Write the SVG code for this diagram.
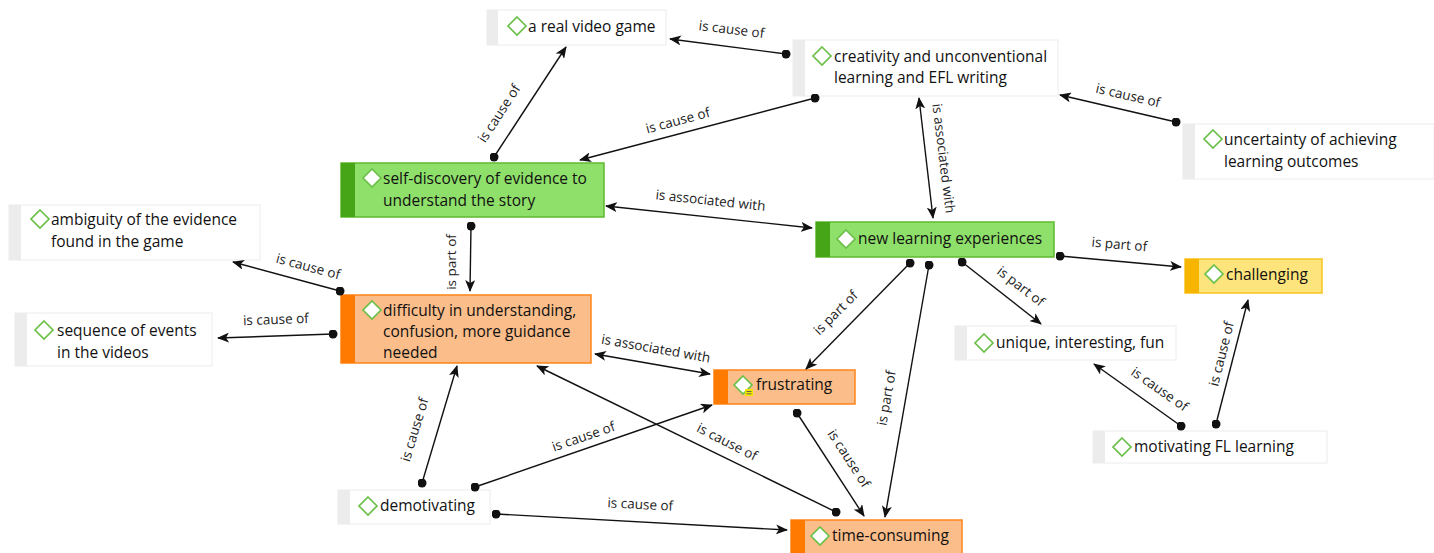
<svg xmlns="http://www.w3.org/2000/svg" width="1434" height="553" viewBox="0 0 1434 553">
<defs>
<marker id="arr" viewBox="0 0 12 10" refX="11" refY="5" markerWidth="12" markerHeight="10" markerUnits="userSpaceOnUse" orient="auto-start-reverse"><path d="M0,0 L12,5 L0,10 L3,5 Z" fill="#111"/></marker>
<marker id="dot" viewBox="0 0 10 10" refX="5" refY="5" markerWidth="9" markerHeight="9" markerUnits="userSpaceOnUse"><circle cx="5" cy="5" r="5" fill="#111"/></marker>
<symbol id="dia" viewBox="0 0 20 20" overflow="visible"><path d="M10,1 L19,10 L10,19 L1,10 Z" fill="#fff" stroke="#6cc04a" stroke-width="1.7"/></symbol>
</defs>
<style>
.plain{fill:#fff;stroke:#ececec;stroke-width:1}
.pstrip{fill:#ececec}
.green{fill:#8fe06a;stroke:#5fba2e;stroke-width:1.5}
.gstrip{fill:#46a517}
.orange{fill:#fbbd8a;stroke:#ff8419;stroke-width:1.5}
.ostrip{fill:#ff7a00}
.yellow{fill:#fde47d;stroke:#f7c51c;stroke-width:1.5}
.ystrip{fill:#f7b500}
.t{font-family:"Open Sans","Noto Sans",sans-serif;font-size:15.5px;font-weight:500;fill:#111}
.lb{font-family:"Open Sans","Noto Sans",sans-serif;font-size:13.5px;fill:#222;text-anchor:middle}
.c{fill:none;stroke:#111;stroke-width:1.4;marker-start:url(#dot);marker-end:url(#arr)}
.d{fill:none;stroke:#111;stroke-width:1.4;marker-start:url(#arr);marker-end:url(#arr)}
</style>
<rect width="1434" height="553" fill="#fff"/>

<g id="n-video">
<rect class="plain" x="487" y="10" width="179" height="35"/><rect class="pstrip" x="487" y="10" width="11" height="35"/>
<use href="#dia" x="507" y="16" width="20" height="20"/>
<text class="t" x="528" y="32">a real video game</text>
</g>
<g id="n-creativity">
<rect class="plain" x="793" y="40" width="265" height="56"/><rect class="pstrip" x="793" y="40" width="12" height="56"/>
<use href="#dia" x="812" y="46" width="20" height="20"/>
<text class="t" x="834" y="62">creativity and unconventional</text>
<text class="t" x="834" y="83">learning and EFL writing</text>
</g>
<g id="n-uncertainty">
<rect class="plain" x="1183" y="124" width="251" height="55"/><rect class="pstrip" x="1183" y="124" width="12" height="55"/>
<use href="#dia" x="1203" y="129" width="20" height="20"/>
<text class="t" x="1224" y="145">uncertainty of achieving</text>
<text class="t" x="1224" y="167">learning outcomes</text>
</g>
<g id="n-self">
<rect class="green" x="341" y="163" width="263" height="54"/><rect class="gstrip" x="341" y="163" width="14" height="54"/>
<use href="#dia" x="362" y="168" width="20" height="20"/>
<text class="t" x="383" y="184">self-discovery of evidence to</text>
<text class="t" x="383" y="206">understand the story</text>
</g>
<g id="n-ambiguity">
<rect class="plain" x="9" y="205" width="251" height="55"/><rect class="pstrip" x="9" y="205" width="12" height="55"/>
<use href="#dia" x="30" y="209" width="20" height="20"/>
<text class="t" x="51" y="225">ambiguity of the evidence</text>
<text class="t" x="51" y="247">found in the game</text>
</g>
<g id="n-new">
<rect class="green" x="816" y="222" width="238" height="35"/><rect class="gstrip" x="816" y="222" width="14" height="35"/>
<use href="#dia" x="836" y="229" width="20" height="20"/>
<text class="t" x="858" y="244">new learning experiences</text>
</g>
<g id="n-challenging">
<rect class="yellow" x="1185" y="259" width="137" height="34"/><rect class="ystrip" x="1185" y="259" width="14" height="34"/>
<use href="#dia" x="1204" y="264" width="20" height="20"/>
<text class="t" x="1226" y="280">challenging</text>
</g>
<g id="n-sequence">
<rect class="plain" x="15" y="313" width="197" height="53"/><rect class="pstrip" x="15" y="313" width="12" height="53"/>
<use href="#dia" x="34" y="320" width="20" height="20"/>
<text class="t" x="57" y="336">sequence of events</text>
<text class="t" x="57" y="358">in the videos</text>
</g>
<g id="n-difficulty">
<rect class="orange" x="341" y="295" width="250" height="68"/><rect class="ostrip" x="341" y="295" width="14" height="68"/>
<use href="#dia" x="362" y="300" width="20" height="20"/>
<text class="t" x="383" y="316">difficulty in understanding,</text>
<text class="t" x="383" y="337">confusion, more guidance</text>
<text class="t" x="383" y="358">needed</text>
</g>
<g id="n-unique">
<rect class="plain" x="955" y="326" width="221" height="34"/><rect class="pstrip" x="955" y="326" width="12" height="34"/>
<use href="#dia" x="974" y="333" width="20" height="20"/>
<text class="t" x="996" y="348">unique, interesting, fun</text>
</g>
<g id="n-frustrating">
<rect class="orange" x="714" y="370" width="141" height="34"/><rect class="ostrip" x="714" y="370" width="14" height="34"/>
<use href="#dia" x="733" y="375" width="20" height="20"/>
<rect x="745" y="389" width="8" height="7" fill="#f2e600"/>
<path d="M746.5,391.5 H751.5 M746.5,393.8 H751.5" stroke="#555" stroke-width="0.9"/>
<text class="t" x="756" y="390">frustrating</text>
</g>
<g id="n-motivating">
<rect class="plain" x="1093" y="431" width="234" height="32"/><rect class="pstrip" x="1093" y="431" width="12" height="32"/>
<use href="#dia" x="1112" y="437" width="20" height="20"/>
<text class="t" x="1134" y="452">motivating FL learning</text>
</g>
<g id="n-demotivating">
<rect class="plain" x="338" y="490" width="152" height="34"/><rect class="pstrip" x="338" y="490" width="12" height="34"/>
<use href="#dia" x="358" y="496" width="20" height="20"/>
<text class="t" x="380" y="511">demotivating</text>
</g>
<g id="n-time">
<rect class="orange" x="791" y="520" width="171" height="40"/><rect class="ostrip" x="791" y="520" width="14" height="40"/>
<use href="#dia" x="810" y="526" width="20" height="20"/>
<text class="t" x="832" y="541">time-consuming</text>
</g>

<g id="connectors">
<path class="c" d="M786,54 L670,39"/>
<path class="c" d="M494,157 L566,47"/>
<path class="c" d="M815,98 L580,160"/>
<path class="c" d="M1176,122 L1060,95"/>
<path class="d" d="M919,98 L933,218"/>
<path class="d" d="M606,206 L812,228"/>
<path class="c" d="M471,226 L470,291"/>
<path class="c" d="M340,291 L233,262"/>
<path class="c" d="M333,334 L218,338"/>
<path class="d" d="M595,354 L710,374"/>
<path class="c" d="M910,263 L806,369"/>
<path class="c" d="M929,265 L885,517"/>
<path class="c" d="M962,262 L1041,324"/>
<path class="c" d="M1060,256 L1181,267"/>
<path class="c" d="M1181,426 L1094,364"/>
<path class="c" d="M1216,424 L1248,300"/>
<path class="c" d="M422,483 L457,366"/>
<path class="c" d="M475,487 L712,405"/>
<path class="c" d="M836,512 L537,366"/>
<path class="c" d="M797,413 L864,516"/>
<path class="c" d="M496,514 L787,530"/>
</g>
<g id="labels">
<text class="lb" transform="translate(731,34) rotate(7)">is cause of</text>
<text class="lb" transform="translate(503,116) rotate(-57)">is cause of</text>
<text class="lb" transform="translate(679,125) rotate(-15)">is cause of</text>
<text class="lb" transform="translate(1127,100) rotate(13)">is cause of</text>
<text class="lb" transform="translate(939,159) rotate(83)">is associated with</text>
<text class="lb" transform="translate(710,205) rotate(6)">is associated with</text>
<text class="lb" transform="translate(456,262) rotate(-90)">is part of</text>
<text class="lb" transform="translate(307,271) rotate(15)">is cause of</text>
<text class="lb" transform="translate(276,324) rotate(-2)">is cause of</text>
<text class="lb" transform="translate(655,353) rotate(10)">is associated with</text>
<text class="lb" transform="translate(839,316) rotate(-45)">is part of</text>
<text class="lb" transform="translate(891,399) rotate(-80)">is part of</text>
<text class="lb" transform="translate(1018,290) rotate(38)">is part of</text>
<text class="lb" transform="translate(1119,249) rotate(5)">is part of</text>
<text class="lb" transform="translate(1157,393) rotate(35)">is cause of</text>
<text class="lb" transform="translate(1226,355) rotate(-76)">is cause of</text>
<text class="lb" transform="translate(419,431) rotate(-73)">is cause of</text>
<text class="lb" transform="translate(585,441) rotate(-19)">is cause of</text>
<text class="lb" transform="translate(725,446) rotate(27)">is cause of</text>
<text class="lb" transform="translate(845,461) rotate(57)">is cause of</text>
<text class="lb" transform="translate(640,509) rotate(3)">is cause of</text>
</g>
</svg>
